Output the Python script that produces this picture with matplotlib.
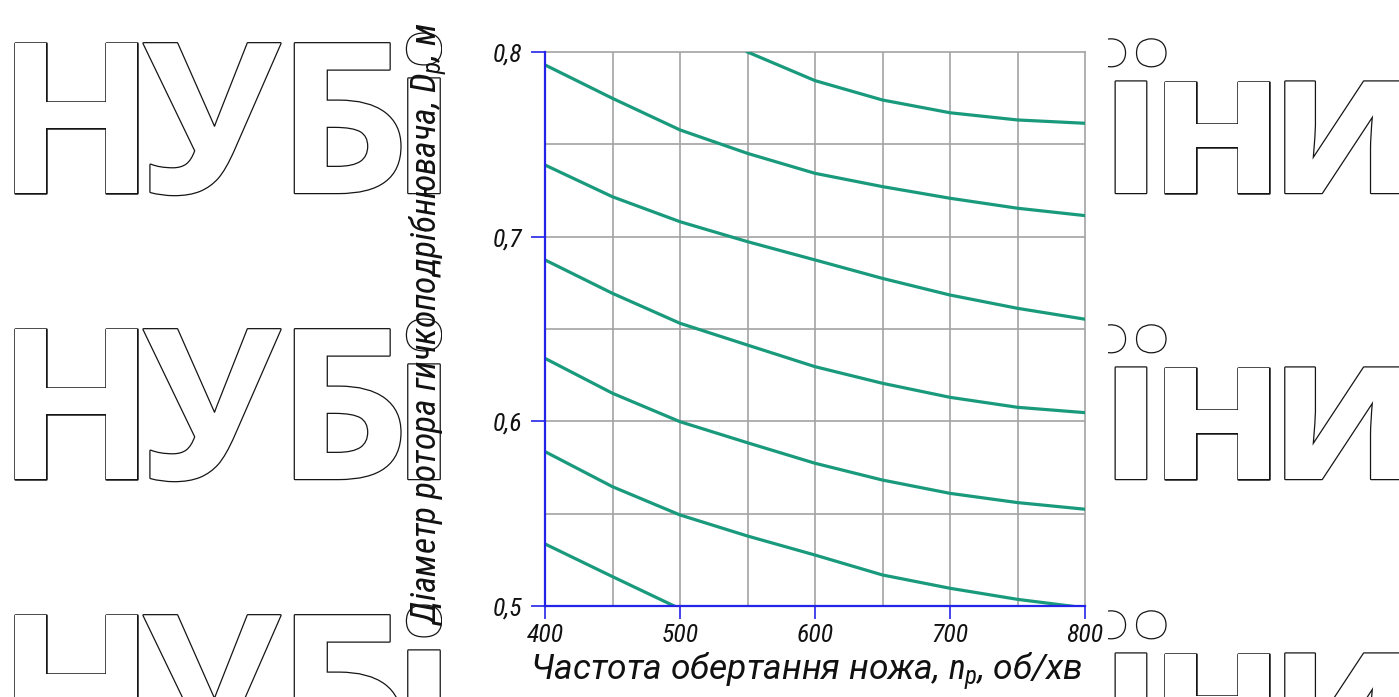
import matplotlib
matplotlib.use("Agg")
import matplotlib.pyplot as plt
import matplotlib.patheffects as pe
from matplotlib.patches import Rectangle

# ---- data ----
n_rpm = [400, 450, 500, 550, 600, 650, 700, 750, 800]
curve_1 = [0.7930, 0.7749, 0.7578, 0.7451, 0.7343, 0.7271, 0.7208, 0.7154, 0.7114]
curve_2_x = [550, 600, 650, 700, 750, 800]
curve_2 = [0.8000, 0.7845, 0.7740, 0.7671, 0.7632, 0.7614]
curve_3 = [0.7388, 0.7216, 0.7081, 0.6973, 0.6874, 0.6774, 0.6684, 0.6612, 0.6553]
curve_4 = [0.6874, 0.6693, 0.6531, 0.6413, 0.6296, 0.6206, 0.6130, 0.6076, 0.6047]
curve_5 = [0.6341, 0.6152, 0.5998, 0.5884, 0.5773, 0.5682, 0.5610, 0.5560, 0.5524]
curve_6 = [0.5836, 0.5646, 0.5493, 0.5379, 0.5276, 0.5168, 0.5096, 0.5036, 0.4990]
curve_7_x = [400, 450, 500]
curve_7 = [0.5336, 0.5159, 0.4985]

x_ticks = [400, 500, 600, 700, 800]
x_tick_labels = ["400", "500", "600", "700", "800"]
y_ticks = [0.5, 0.6, 0.7, 0.8]
y_tick_labels = ["0,5", "0,6", "0,7", "0,8"]
x_grid = [450, 500, 550, 600, 650, 700, 750]
y_grid = [0.55, 0.60, 0.65, 0.70, 0.75]

xlabel = r"Частота обертання ножа, $n_р$, об/хв"
ylabel = r"Діаметр ротора гичкоподрібнювача, $D_р$, м"

# watermark letters (visible parts on left and right of the chart)
wm_left_letters = ["Н", "У", "Б", "і"]
wm_left_centers = [76, 212, 343, 424]
wm_right_letters = ["ї", "н", "и"]
wm_right_centers = [1131, 1217, 1343]
wm_baselines = [193, 479, 765]

# ---- style ----
FONT = ["Roboto Condensed", "DejaVu Sans"]
plt.rcParams["font.family"] = FONT
plt.rcParams["mathtext.fontset"] = "custom"
plt.rcParams["mathtext.it"] = "Roboto Condensed:italic"
plt.rcParams["mathtext.rm"] = "Roboto Condensed:italic"

W, H = 1399, 697
fig = plt.figure(figsize=(W / 100, H / 100), dpi=100)
fig.patch.set_facecolor("white")

outline = [pe.withStroke(linewidth=1.8, foreground="#151515")]
for b in wm_baselines:
    for ch, cx in zip(wm_left_letters, wm_left_centers):
        fig.text(cx / W, 1 - b / H, ch, fontsize=151, family=["Open Sans", "DejaVu Sans"],
                 weight="bold", color="white", ha="center", va="baseline",
                 path_effects=outline, zorder=0.1)
    for ch, cx in zip(wm_right_letters, wm_right_centers):
        fig.text(cx / W, 1 - b / H, ch, fontsize=147, family=["Open Sans", "DejaVu Sans"],
                 weight="bold", color="white", ha="center", va="baseline",
                 path_effects=outline, zorder=0.1)

# white cover behind the chart
fig.patches.append(Rectangle((442 / W, 0), (1108 - 442) / W, 1, transform=fig.transFigure,
                             facecolor="white", edgecolor="none", zorder=0.2))

ax = fig.add_axes([545 / W, 1 - 606 / H, (1085 - 545) / W, (606 - 52) / H])
ax.set_zorder(1)
ax.patch.set_alpha(0)
ax.set_xlim(400, 800)
ax.set_ylim(0.5, 0.8)

for gx in x_grid:
    ax.axvline(gx, color="#a3a3a3", lw=1.2, zorder=1)
for gy in y_grid:
    ax.axhline(gy, color="#a3a3a3", lw=1.2, zorder=1)

green = "#1a9a7c"
lw = 2.3
ax.plot(n_rpm, curve_1, color=green, lw=lw, zorder=3)
ax.plot(curve_2_x, curve_2, color=green, lw=lw, zorder=3)
ax.plot(n_rpm, curve_3, color=green, lw=lw, zorder=3)
ax.plot(n_rpm, curve_4, color=green, lw=lw, zorder=3)
ax.plot(n_rpm, curve_5, color=green, lw=lw, zorder=3)
ax.plot(n_rpm, curve_6, color=green, lw=lw, zorder=3)
ax.plot(curve_7_x, curve_7, color=green, lw=lw, zorder=3)

for s in ["left", "bottom"]:
    ax.spines[s].set_color("#2424e8")
    ax.spines[s].set_linewidth(1.6)
    ax.spines[s].set_zorder(4)
for s in ["top", "right"]:
    ax.spines[s].set_color("#a3a3a3")
    ax.spines[s].set_linewidth(1.2)

ax.set_xticks(x_ticks)
ax.set_xticklabels(x_tick_labels, fontsize=18.5, style="italic", color="#111111")
ax.set_yticks(y_ticks)
ax.set_yticklabels(y_tick_labels, fontsize=18.5, style="italic", color="#111111")
ax.tick_params(axis="x", direction="out", length=9, width=1.2, color="#2424e8", pad=3)
ax.tick_params(axis="y", direction="out", length=10, width=1.2, color="#2424e8", pad=6)

ax.set_xlabel(xlabel, fontsize=25.5, style="italic", color="#111111",
              family=["Roboto", "DejaVu Sans"])
ax.set_ylabel(ylabel, fontsize=25.5, style="italic", color="#111111")
ax.xaxis.set_label_coords((806 - 545) / 540, (606 - 650) / 554)
ax.yaxis.set_label_coords((449 - 545) / 540, (606 - 324) / 554)

fig.savefig("out.png", dpi=100, facecolor="white")
